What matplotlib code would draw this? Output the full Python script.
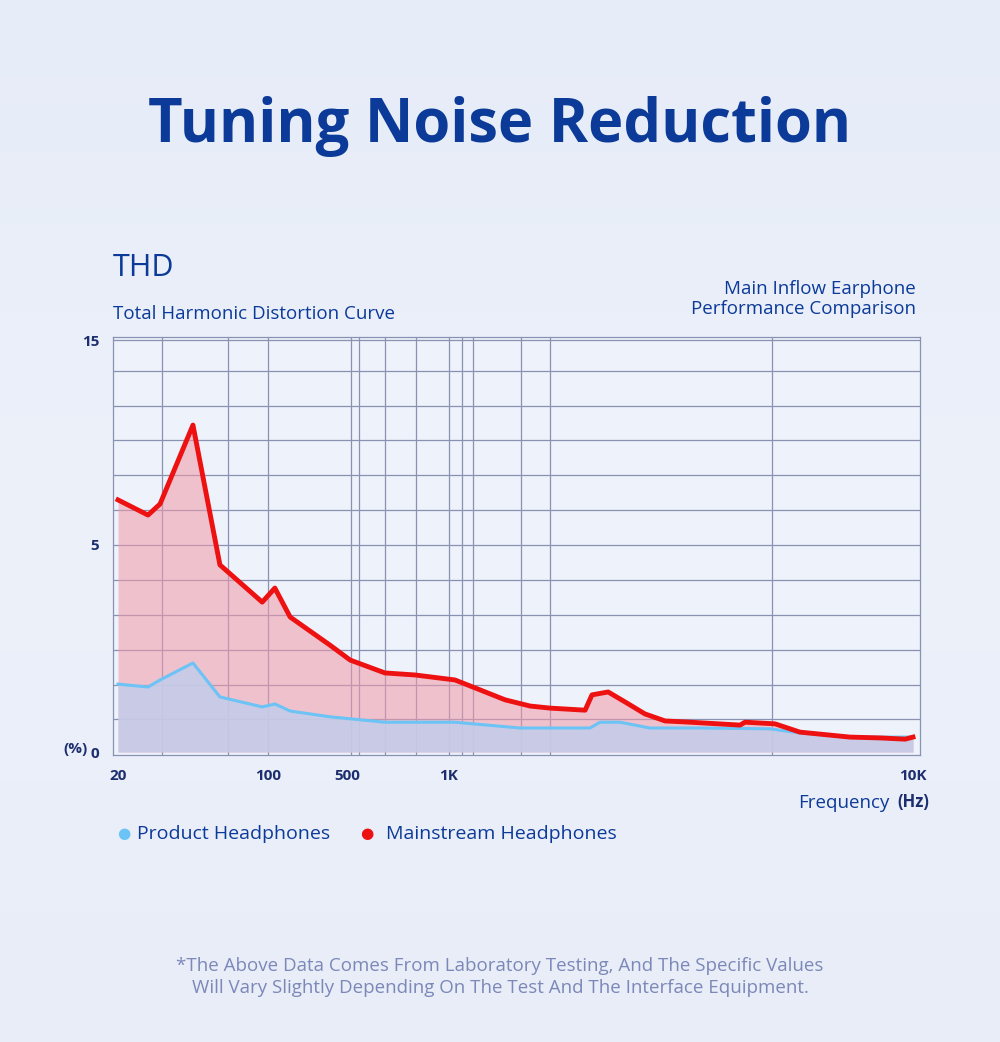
import numpy as np
import matplotlib.pyplot as plt

# ---- data (frequency in Hz, THD in %) ----
red_freq = [20, 27.6, 31.4, 44.7, 59.7, 94, 115, 157, 354, 511, 647, 795, 1030, 1137, 1321,
            1496, 1652, 1965, 2033, 2203, 2395, 2644, 2922, 3306, 4239, 4345, 5044, 5705,
            7311, 8487, 9616, 10000]
red_thd = [7.2, 6.46, 7.0, 10.85, 4.52, 3.62, 3.96, 3.26, 2.58, 2.22, 1.91, 1.86, 1.74, 1.55,
           1.26, 1.11, 1.06, 1.01, 1.38, 1.45, 1.21, 0.92, 0.75, 0.72, 0.65, 0.72, 0.68, 0.48,
           0.36, 0.34, 0.31, 0.36]
blue_freq = [20, 27.6, 31.4, 44.7, 59.7, 94, 115, 157, 354, 647, 1030, 1422, 2013, 2115,
             2337, 2710, 3475, 4920, 5705, 7311, 10000]
blue_thd = [1.64, 1.57, 1.74, 2.15, 1.33, 1.09, 1.16, 0.99, 0.85, 0.72, 0.72, 0.58, 0.58,
            0.72, 0.72, 0.58, 0.58, 0.56, 0.46, 0.36, 0.36]

x_ticks = [20, 100, 500, 1000, 10000]
x_tick_labels = ["20", "100", "500", "1K", "10K"]
y_ticks = [0, 5, 15]
x_grid = [32, 65, 100, 514, 543, 647, 800, 1000, 1067, 1127, 1430, 1652, 4966]
y_grid = [0.8, 1.63, 2.46, 3.31, 4.15, 5, 6.7, 8.4, 10.1, 11.8, 13.5, 15]

# ---- non-uniform axes (piecewise log x, piecewise linear y) ----
XK = np.log10([19, 20, 100, 500, 1000, 10000, 10400])
XP = np.array([113, 118, 268, 347, 449, 913, 920], float)
def xf(v): return np.interp(np.log10(np.clip(v, 1e-3, None)), XK, XP)
def xi(p): return 10 ** np.interp(p, XP, XK)
YK = np.array([-0.07, 0, 5, 15, 15.15])
YP = np.array([-3, 0, 207, 412, 415], float)
def yf(v): return np.interp(v, YK, YP)
def yi(p): return np.interp(p, YP, YK)

plt.rcParams['font.family'] = ['Open Sans', 'Noto Sans', 'DejaVu Sans']
fig = plt.figure(figsize=(10, 10.42), dpi=100)
fig.patch.set_facecolor('#e9eef9')
bg = fig.add_axes([0, 0, 1, 1], zorder=-10)
grad = np.linspace(0, 1, 256).reshape(-1, 1)
bg.imshow(grad, aspect='auto', cmap=plt.matplotlib.colors.LinearSegmentedColormap.from_list(
    'bg', ['#e6ecf8', '#edf1fa', '#e8edf8']), extent=[0, 1, 0, 1])
bg.axis('off')

ax = fig.add_axes([0.113, 1 - 755 / 1042, 0.807, 418 / 1042])
ax.set_facecolor('#eef2fb')
ax.set_xscale('function', functions=(xf, xi))
ax.set_yscale('function', functions=(yf, yi))
ax.set_xlim(19, 10400)
ax.set_ylim(-0.07, 15.15)

for g in x_grid:
    ax.axvline(g, color='#8a92b2', lw=0.9, zorder=1)
for g in y_grid:
    ax.axhline(g, color='#8a92b2', lw=0.9, zorder=1)

ax.fill_between(red_freq, red_thd, 0, color='#f099a8', alpha=0.55, lw=0, zorder=2)
ax.fill_between(blue_freq, blue_thd, 0, color='#c4cce9', alpha=0.9, lw=0, zorder=3)
ax.plot(blue_freq, blue_thd, color='#6cc3f5', lw=2.2, zorder=4)
ax.plot(red_freq, red_thd, color='#ee1111', lw=3.5, zorder=5)

for s in ax.spines.values():
    s.set_color('#8a92b2')
    s.set_linewidth(0.9)
ax.set_xticks(x_ticks)
ax.set_xticklabels(x_tick_labels)
ax.set_yticks(y_ticks)
ax.set_yticklabels(["0", "5", "15"])
ax.tick_params(length=0, labelsize=11, colors='#1d2e6e', pad=10)
for t in ax.get_xticklabels() + ax.get_yticklabels():
    t.set_fontweight('bold')
ax.minorticks_off()

dark = '#0b3a98'
fig.text(0.5, 1 - 127 / 1042, "Tuning Noise Reduction", ha='center', va='center',
         fontsize=43, fontweight='bold', color=dark)
fig.text(0.113, 1 - 268 / 1042, "THD", ha='left', va='center', fontsize=22, color=dark)
fig.text(0.113, 1 - 314 / 1042, "Total Harmonic Distortion Curve", ha='left', va='center',
         fontsize=13.5, color=dark)
fig.text(0.916, 1 - 299 / 1042, "Main Inflow Earphone\nPerformance Comparison", ha='right',
         va='center', fontsize=13.5, color=dark, linespacing=1.2)
fig.text(0.088, 1 - 749 / 1042, "(%)", ha='right', va='center', fontsize=11,
         fontweight='bold', color='#1d2e6e')
fig.text(0.889, 1 - 803 / 1042, "Frequency", ha='right', va='center', fontsize=13.5, color=dark)
fig.text(0.897, 1 - 802 / 1042, "(Hz)", ha='left', va='center', fontsize=12,
         fontweight='bold', color='#1d2e6e')

fig.text(0.124, 1 - 834 / 1042, "\u25cf", ha='center', va='center', fontsize=11,
         color='#6cc3f5', family='DejaVu Sans')
fig.text(0.137, 1 - 834 / 1042, "Product Headphones", ha='left', va='center',
         fontsize=14, color=dark)
fig.text(0.367, 1 - 834 / 1042, "\u25cf", ha='center', va='center', fontsize=11,
         color='#ee1111', family='DejaVu Sans')
fig.text(0.386, 1 - 834 / 1042, "Mainstream Headphones", ha='left', va='center',
         fontsize=14, color=dark)

fig.text(0.5, 1 - 977 / 1042,
         "*The Above Data Comes From Laboratory Testing, And The Specific Values\n"
         "Will Vary Slightly Depending On The Test And The Interface Equipment.",
         ha='center', va='center', fontsize=13.5, color='#7b88b8', linespacing=1.25)

fig.savefig('out.png', dpi=100, facecolor=fig.get_facecolor())
